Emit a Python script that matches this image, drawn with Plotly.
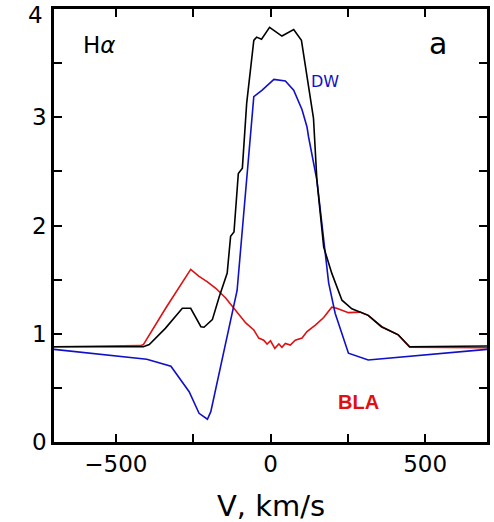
import plotly.graph_objects as go

# Black: total H-alpha profile
v_black = [-700, -411, -392, -340, -285, -258, -225, -215, -188, -166, -140, -134, -129, -118,
           -108, -104, -91, -77, -54, -45, -29, -3, 37, 75, 100, 118, 139, 150, 172, 198, 231,
           263, 316, 359, 413, 450, 700]
i_black = [0.88, 0.88, 0.90, 1.05, 1.235, 1.235, 1.065, 1.06, 1.13, 1.34, 1.56, 1.77, 1.90, 1.94,
           2.27, 2.48, 2.53, 3.13, 3.71, 3.74, 3.72, 3.83, 3.75, 3.81, 3.71, 3.37, 2.99, 2.42, 1.80,
           1.56, 1.31, 1.23, 1.17, 1.065, 0.99, 0.88, 0.887]

# Red: BLA component
v_red = [-700, -420, -411, -338, -258, -231, -204, -177, -145, -113, -80, -54, -38, -22, -11, 0,
         14, 27, 37, 48, 64, 80, 102, 118, 145, 172, 198, 214, 252, 290, 316, 359, 413, 450, 700]
i_red = [0.88, 0.89, 0.90, 1.24, 1.595, 1.53, 1.48, 1.42, 1.33, 1.22, 1.10, 1.035, 0.96, 0.94,
         0.905, 0.935, 0.865, 0.905, 0.875, 0.91, 0.895, 0.94, 0.96, 1.02, 1.08, 1.15, 1.245,
         1.235, 1.195, 1.20, 1.17, 1.065, 0.99, 0.875, 0.87]

# Blue: DW component
v_blue = [-700, -400, -322, -263, -231, -204, -193, -108, -54, -27, 11, 48, 75, 102, 118, 123,
          150, 188, 209, 252, 316, 700]
i_blue = [0.856, 0.765, 0.70, 0.465, 0.265, 0.21, 0.28, 1.40, 3.19, 3.25, 3.35, 3.335, 3.25,
          3.07, 2.91, 2.82, 2.42, 1.47, 1.19, 0.82, 0.757, 0.856]

x_ticks = [-750, -500, -250, 0, 250, 500, 750]
x_labels = ["", "\u2212500", "", "0", "", "500", ""]
y_ticks = [0, 0.5, 1, 1.5, 2, 2.5, 3, 3.5, 4]
y_labels = ["0", "", "1", "", "2", "", "3", "", ""]
y_top_label = "4"

FONT = "DejaVu Sans"

fig = go.Figure()
fig.add_trace(go.Scatter(x=v_red, y=i_red, mode="lines",
                         line=dict(color="#e01010", width=1.6), hoverinfo="skip"))
fig.add_trace(go.Scatter(x=v_blue, y=i_blue, mode="lines",
                         line=dict(color="#1010c8", width=1.6), hoverinfo="skip"))
fig.add_trace(go.Scatter(x=v_black, y=i_black, mode="lines",
                         line=dict(color="#000000", width=1.6), hoverinfo="skip"))

fig.add_annotation(x=-553, y=3.67, text="H<i>\u03b1</i>", showarrow=False,
                   font=dict(family=FONT, size=23, color="black"))
fig.add_annotation(x=540, y=3.68, text="a", showarrow=False,
                   font=dict(family=FONT, size=30, color="black"))
fig.add_annotation(x=175, y=3.33, text="DW", showarrow=False,
                   font=dict(family=FONT, size=16, color="#1010c8"))
fig.add_annotation(x=284, y=0.37, text="<b>BLA</b>", showarrow=False,
                   font=dict(family="Liberation Sans", size=20, color="#e01010"))
fig.add_annotation(x=0, y=-0.147, xref="x", yref="paper", text="V, km/s", showarrow=False,
                   yanchor="middle", font=dict(family=FONT, size=29, color="black"))
fig.add_annotation(x=-0.021, y=0.986, xref="paper", yref="paper", text=y_top_label,
                   showarrow=False, xanchor="right", yanchor="middle",
                   font=dict(family=FONT, size=23, color="black"))

fig.update_layout(
    width=494, height=522,
    margin=dict(l=54, r=7, t=9, b=80),
    paper_bgcolor="white", plot_bgcolor="white",
    showlegend=False,
    font=dict(family=FONT, color="black"),
)
fig.update_xaxes(range=[-700, 700], tickvals=x_ticks, ticktext=x_labels,
                 ticks="inside", ticklen=8, tickwidth=1.5, tickcolor="black",
                 showline=True, linewidth=2.5, linecolor="black", mirror="allticks",
                 showgrid=False, zeroline=False, automargin=False,
                 tickfont=dict(size=23, family=FONT))
fig.update_yaxes(range=[0, 4], tickvals=y_ticks, ticktext=y_labels,
                 ticks="inside", ticklen=8, tickwidth=1.5, tickcolor="black",
                 showline=True, linewidth=2.5, linecolor="black", mirror="allticks",
                 showgrid=False, zeroline=False, automargin=False,
                 tickfont=dict(size=23, family=FONT))

fig.write_html("out.html")
